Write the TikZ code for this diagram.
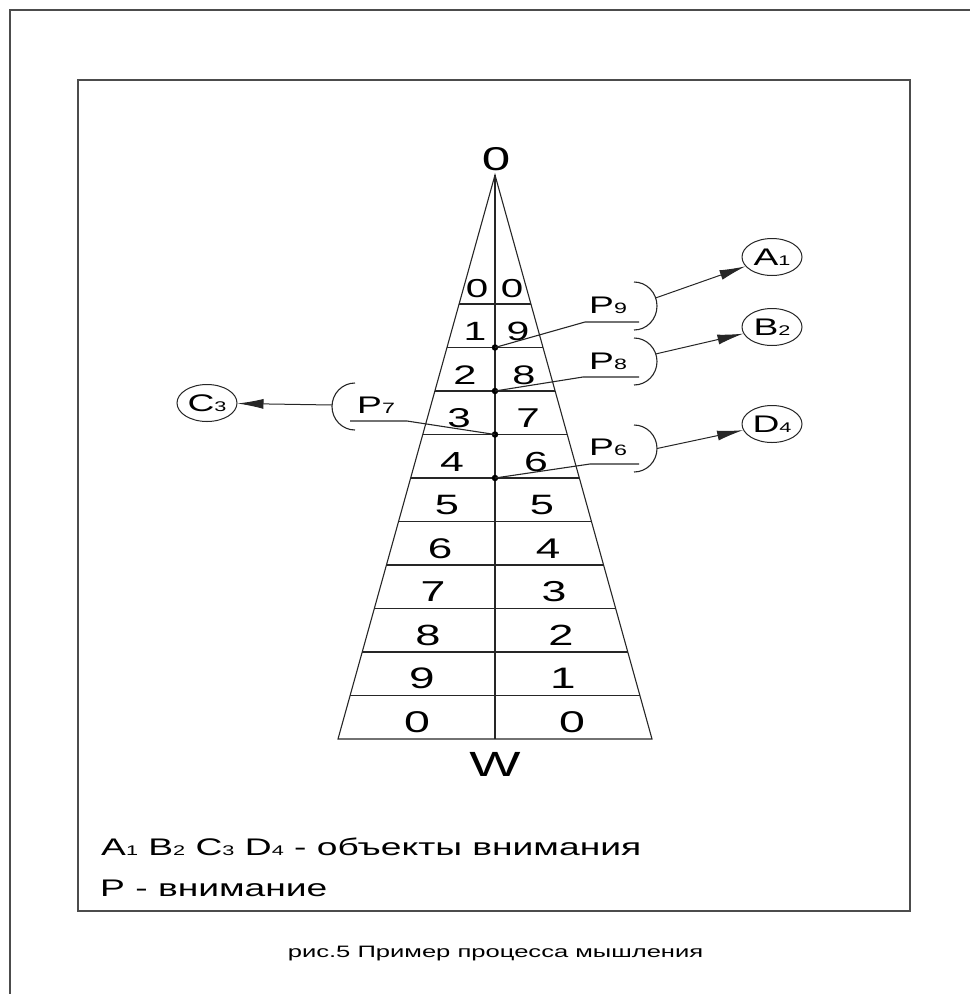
\documentclass[tikz,border=0pt]{standalone}
\usepackage{fontspec}
\setmainfont{Liberation Sans}[FakeStretch=1.55]
\usetikzlibrary{arrows.meta,shapes.geometric,calc}
\newcommand\fsz[1]{\fontsize{#1}{#1}\selectfont}
\newcommand\subd[2]{{\fsz{#1}#2}}
\begin{document}
\begin{tikzpicture}[x=1pt,y=-1pt,
  line/.style={line width=1.1pt, draw=black!85},
  frame/.style={line width=1.5pt, draw=black!70},
  obj/.style={ellipse, draw=black!85, line width=1pt, minimum width=60pt, minimum height=37pt, inner sep=0pt, font=\fsz{24}},
  arr/.style={line width=1pt, draw=black!85, -{Latex[length=26pt,width=10pt]}},
  dotn/.style={circle, fill=black, inner sep=0pt, minimum size=6.5pt},
  lbl/.style={anchor=base west, inner sep=0pt},
  cell/.style={anchor=base, inner sep=0pt},
]
\useasboundingbox (0,0) rectangle (970,994);
% frames
\draw[frame] (10,994) -- (10,10) -- (970,10);
\draw[frame] (78,80) rectangle (910,911);
% triangle
\coordinate (apex) at (495,175);
\coordinate (bl) at (338,739);
\coordinate (br) at (652,739);
\coordinate (bm) at (495,739);
\draw[line] (bl) -- (apex) -- (br) -- cycle;
\draw[line] (apex) -- (bm);
\foreach \k in {0,...,9}{
  \pgfmathsetmacro\t{(129+43.5*\k)/564}
  \draw[line] ($(apex)!\t!(bl)$) -- ($(apex)!\t!(br)$);
}
% digits
\foreach \k/\xl/\xr/\l/\r in {0/477/512/0/0,1/475/518/1/9,2/465/524/2/8,3/459/528/3/7,4/452/536/4/6,5/447/542/5/5,6/440/548/6/4,7/433/554/7/3,8/428/561/8/2,9/422/563/9/1,10/417/572/0/0}{
  \pgfmathsetmacro\b{297+43.5*\k}
  \pgfmathsetmacro\s{26+0.4*\k}
  \node[cell,font=\fsz{\s}] (L\k) at (\xl,\b) {\l};
  \node[cell,font=\fsz{\s}] (R\k) at (\xr,\b) {\r};
}
\node[cell,font=\fsz{33}] (top) at (496,170) {0};
\node[cell,font=\fsz{35}] (w) at (495,776) {W};
% dots
\node[dotn] (d9) at (495,347.5) {};
\node[dotn] (d8) at (495,391) {};
\node[dotn] (d7) at (495,434.5) {};
\node[dotn] (d6) at (495,478) {};
% leaders
\coordinate (k9) at (585,322); \coordinate (e9) at (639,322);
\coordinate (k8) at (583,377); \coordinate (e8) at (639,377);
\coordinate (k6) at (590,464); \coordinate (e6) at (639,464);
\coordinate (k7) at (407,421); \coordinate (e7) at (350,421);
\draw[line] (d9.center) -- (k9) -- (e9);
\draw[line] (d8.center) -- (k8) -- (e8);
\draw[line] (d6.center) -- (k6) -- (e6);
\draw[line] (d7.center) -- (k7) -- (e7);
% P labels
\node[lbl,font=\fsz{24}] (p9) at (589,313) {P\subd{15}{9}};
\node[lbl,font=\fsz{24}] (p8) at (589,369) {P\subd{15}{8}};
\node[lbl,font=\fsz{24}] (p6) at (589,455) {P\subd{15}{6}};
\node[lbl,font=\fsz{24}] (p7) at (357,413) {P\subd{15}{7}};
% arcs
\draw[line] (634,282) .. controls (646.7,282) and (657,292.7) .. (657,306) .. controls (657,319.3) and (646.7,330) .. (634,330);
\draw[line] (634,338) .. controls (646.7,338) and (657,348.5) .. (657,361.5) .. controls (657,374.5) and (646.7,385) .. (634,385);
\draw[line] (634,425) .. controls (646.7,425) and (657,435.5) .. (657,448.5) .. controls (657,461.5) and (646.7,472) .. (634,472);
\draw[line] (355,383) .. controls (342.3,383) and (332,393.5) .. (332,406.5) .. controls (332,419.5) and (342.3,430) .. (355,430);
\coordinate (s9) at (655.5,298);
\coordinate (s8) at (655.5,354);
\coordinate (s6) at (657,448.5);
\coordinate (s7) at (332,405);
% objects
\node[obj] (A1) at (772,257) {A\subd{14}{1}};
\node[obj] (B2) at (772,327) {B\subd{14}{2}};
\node[obj] (D4) at (772,424) {D\subd{14}{4}};
\node[obj] (C3) at (207,403) {C\subd{14}{3}};
\draw[arr] (s9) -- (A1);
\draw[arr] (s8) -- (B2);
\draw[arr] (s6) -- (D4);
\draw[arr] (s7) -- (C3);
% legend
\node[lbl,font=\fsz{24}] (leg1) at (101,855) {A\subd{14}{1} B\subd{14}{2} C\subd{14}{3} D\subd{14}{4} - объекты внимания};
\node[lbl,font=\fsz{24}] (leg2) at (100,896) {P - внимание};
\node[cell,font=\fsz{16.5}] (cap) at (495.5,957) {рис.5 Пример процесса мышления};
\end{tikzpicture}
\end{document}
